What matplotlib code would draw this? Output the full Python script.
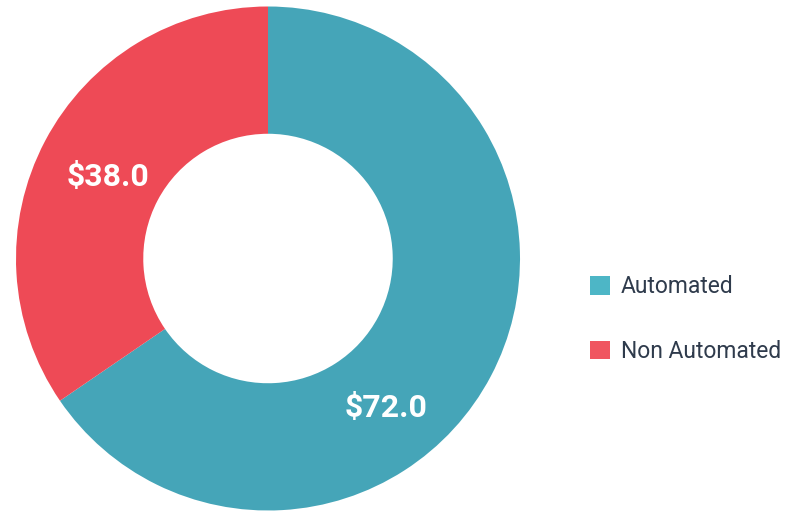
import matplotlib
matplotlib.use("Agg")
import matplotlib.pyplot as plt
from matplotlib.patches import Patch
import numpy as np

categories = ["Automated", "Non Automated"]
values = [72.0, 38.0]
labels = ["$72.0", "$38.0"]
colors = ["#45A5B8", "#EE4A56"]
legend_colors = ["#4DB6C6", "#F05560"]

W, H = 798, 511
fig = plt.figure(figsize=(W / 100, H / 100), dpi=100)
cx, cy, R = 268, 258.5, 252
ax = fig.add_axes([(cx - R) / W, (H - cy - R) / H, 2 * R / W, 2 * R / H])

wedges, _ = ax.pie(values, colors=colors, startangle=90, counterclock=False,
                   radius=1, wedgeprops=dict(width=0.505, linewidth=0))
ax.set_xlim(-1, 1)
ax.set_ylim(-1, 1)
ax.set_aspect("equal")
ax.axis("off")

# label positions (angle in degrees, radius fraction)
label_pos = [(-52, 0.755), (153, 0.715)]
for txt, (ang, r) in zip(labels, label_pos):
    a = np.deg2rad(ang)
    ax.text(r * np.cos(a) + 0.003, r * np.sin(a), txt, ha="center", va="center",
            color="white", fontsize=23, fontweight="bold", family="Roboto")

handles = [Patch(facecolor=c, edgecolor="none") for c in legend_colors]
fig.legend(handles, categories, loc="center left",
           bbox_to_anchor=(569 / W, 1 - 319 / H), frameon=False,
           prop={"family": "Roboto", "size": 16.5}, labelcolor="#2F3B4C",
           handlelength=0.87, handleheight=0.87, handletextpad=0.48,
           labelspacing=1.81)

fig.savefig("out.png", dpi=100)
